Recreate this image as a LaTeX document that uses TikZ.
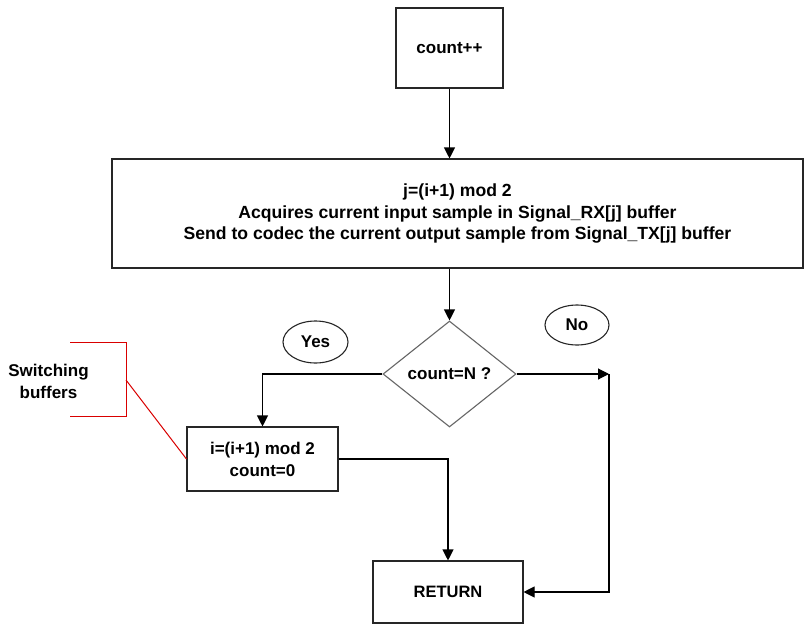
\documentclass[tikz,border=0pt]{standalone}
\usepackage{fontspec}
\setmainfont{Liberation Sans}
\usetikzlibrary{shapes.geometric,arrows.meta}
\begin{document}
\begin{tikzpicture}[x=1pt,y=-1pt,
  every node/.style={font=\fontsize{17}{22}\selectfont\bfseries, text=black},
  box/.style={draw=black!85, line width=1.1pt, rectangle, inner sep=0pt, align=center},
  bubble/.style={draw=black!85, line width=1.1pt, ellipse, inner sep=0pt},
  decision/.style={draw=black!60, line width=1.1pt, diamond, inner sep=0pt},
  conn/.style={draw=black, line width=1.1pt},
  arr/.style={conn, -{Triangle[length=11pt,width=11pt]}},
  brace/.style={draw=red!85!black, line width=1pt}]
\useasboundingbox (0,0) rectangle (804,627);
\fill[white] (0,0) rectangle (804,627);

\node[box, minimum width=107pt, minimum height=80pt] (cnt) at (449.5,48) {count++};
\node[box, minimum width=691pt, minimum height=109pt, font=\fontsize{17.6}{21.5}\selectfont\bfseries] (big) at (457.5,213.5) {j=(i+1) mod 2\\Acquires current input sample in Signal\_RX[j] buffer\\Send to codec the current output sample from Signal\_TX[j] buffer};
\node[decision, minimum width=133pt, minimum height=106pt, aspect=1.25] (dia) at (449.5,374) {count=N ?};
\node[bubble, minimum width=65pt, minimum height=42pt] (yes) at (315.5,342) {Yes};
\node[bubble, minimum width=64pt, minimum height=40pt] (no) at (577,325) {No};
\node[box, minimum width=151pt, minimum height=64pt] (ibox) at (262.5,459) {i=(i+1) mod 2\\count=0};
\node[box, minimum width=150pt, minimum height=62pt, font=\fontsize{16.5}{20}\selectfont\bfseries] (ret) at (448,592) {RETURN};
\node[align=center] (sw) at (48.5,381) {Switching\\buffers};

\coordinate (c1) at (609,374);
\coordinate (b1) at (70,342);
\coordinate (b2) at (126,342);
\coordinate (b3) at (126,416);
\coordinate (b4) at (70,416);
\coordinate (bm) at (126,380);

\draw[arr] (cnt.south) -- (cnt.south |- big.north);
\draw[arr] (dia.north |- big.south) -- (dia.north);
\draw[arr] (dia.west) -| (ibox.north);
\draw[arr] (dia.east) -- (c1);
\draw[arr] (c1) |- (ret.east);
\draw[arr] (ibox.east) -| (ret.north);

\draw[brace] (b1) -- (b2) -- (b3) -- (b4);
\draw[brace] (bm) -- (ibox.west);
\end{tikzpicture}
\end{document}
